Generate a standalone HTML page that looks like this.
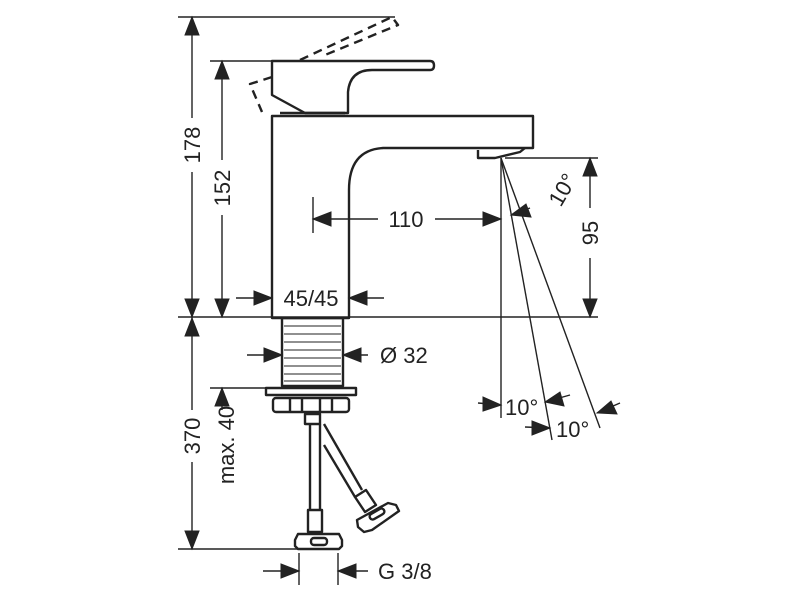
<!DOCTYPE html>
<html><head><meta charset="utf-8"><style>
html,body{margin:0;padding:0;background:#fff;width:800px;height:600px;overflow:hidden}
svg text{font-family:"Liberation Sans","DejaVu Sans",sans-serif;fill:#222}
</style></head><body>
<svg width="800" height="600" viewBox="0 0 800 600" xmlns="http://www.w3.org/2000/svg">
<g stroke="#222" fill="none" stroke-width="1.4">
<line x1="178" y1="17" x2="395" y2="17"/>
<line x1="210" y1="61" x2="272" y2="61"/>
<line x1="178" y1="317" x2="598" y2="317"/>
<line x1="505" y1="158" x2="598" y2="158"/>
<line x1="210" y1="388" x2="268" y2="388"/>
<line x1="178" y1="549" x2="300" y2="549"/>
<line x1="313" y1="197" x2="313" y2="233"/>
<line x1="501" y1="158" x2="501" y2="418"/>
<line x1="501" y1="158" x2="552" y2="440"/>
<line x1="501" y1="158" x2="600" y2="428"/>
<line x1="299" y1="553" x2="299" y2="585"/>
<line x1="338" y1="553" x2="338" y2="585"/>
<line x1="192" y1="17" x2="192" y2="118"/><line x1="192" y1="172" x2="192" y2="317"/>
<line x1="222" y1="61" x2="222" y2="160"/><line x1="222" y1="215" x2="222" y2="317"/>
<line x1="192" y1="317" x2="192" y2="410"/><line x1="192" y1="462" x2="192" y2="549"/>
<line x1="222" y1="388" x2="222" y2="410"/>
<line x1="590" y1="158" x2="590" y2="208"/><line x1="590" y1="258" x2="590" y2="317"/>
<line x1="313" y1="219" x2="378" y2="219"/><line x1="435" y1="219" x2="501" y2="219"/>
<line x1="530" y1="208" x2="511" y2="215"/>
<line x1="236" y1="298" x2="272" y2="298"/><line x1="384" y1="298" x2="349" y2="298"/>
<line x1="247" y1="355" x2="282" y2="355"/><line x1="368" y1="355" x2="343" y2="355"/>
<line x1="263" y1="571" x2="299" y2="571"/><line x1="368" y1="571" x2="338" y2="571"/>
<line x1="478" y1="403" x2="501" y2="405"/><line x1="570" y1="395" x2="545" y2="402"/>
<line x1="525" y1="427" x2="550" y2="428"/><line x1="620" y1="403" x2="597" y2="413"/>
</g>
<g fill="#222" stroke="#222" stroke-width="1" stroke-linejoin="miter">
<path d="M192,17 L185,35 L199,35Z"/><path d="M192,317 L185,299 L199,299Z"/>
<path d="M222,61 L215,79 L229,79Z"/><path d="M222,317 L215,299 L229,299Z"/>
<path d="M192,318 L185,336 L199,336Z"/><path d="M192,549 L185,531 L199,531Z"/>
<path d="M222,388 L215,406 L229,406Z"/>
<path d="M590,158 L583,176 L597,176Z"/><path d="M590,317 L583,299 L597,299Z"/>
<path d="M313,219 L331,212 L331,226Z"/><path d="M501,219 L483,212 L483,226Z"/>
<path d="M272,298 L254,291 L254,305Z"/><path d="M349,298 L367,291 L367,305Z"/>
<path d="M282,355 L264,348 L264,362Z"/><path d="M343,355 L361,348 L361,362Z"/>
<path d="M299,571 L281,564 L281,578Z"/><path d="M338,571 L356,564 L356,578Z"/>
<path d="M511,215 L526,204 L531,217Z"/>
<path d="M501,405 L483,397 L483,411Z"/>
<path d="M545,402 L560,392 L564,406Z"/>
<path d="M550,428 L532,421 L532,435Z"/>
<path d="M597,413 L611,401 L617,414Z"/>
</g>
<g stroke="#222" fill="none" stroke-width="2.4" stroke-linejoin="round">
<path d="M300,60 L392,17 L398,25 L325,55" stroke-dasharray="9,6"/>
<path d="M272,77 L250,84 L262,112" stroke-dasharray="9,6"/>
<path d="M272,61 L430,61 Q434,61 434,65.5 Q434,70 430,70 L372,70 Q350,70 348,92 L348,113 L305,113 L272,95 Z"/>
<line x1="280" y1="113" x2="345" y2="113"/>
<path d="M272,318 L272,116 L533,116 L533,148 L383,148 Q349,150 349,190 L349,318 Z"/>
<path d="M478,150 L478,158 L495,158 L520,152 L525,148"/>
<rect x="282" y="318" width="61" height="68"/>
</g>
<g stroke="#222" stroke-width="1">
<line x1="284" y1="326" x2="341" y2="326"/><line x1="284" y1="334" x2="341" y2="334"/>
<line x1="284" y1="342" x2="341" y2="342"/><line x1="284" y1="350" x2="341" y2="350"/>
<line x1="284" y1="358" x2="341" y2="358"/><line x1="284" y1="366" x2="341" y2="366"/>
<line x1="284" y1="374" x2="341" y2="374"/><line x1="284" y1="381" x2="341" y2="381"/>
</g>
<g stroke="#222" fill="none" stroke-width="2.4" stroke-linejoin="round">
<rect x="266" y="388" width="90" height="7" fill="#fff"/>
<rect x="273" y="398" width="76" height="14" rx="3"/>
<line x1="290" y1="399" x2="290" y2="411"/><line x1="302" y1="399" x2="302" y2="411"/>
<line x1="320" y1="399" x2="320" y2="411"/><line x1="332" y1="399" x2="332" y2="411"/>
<rect x="305" y="414" width="15" height="10"/>
<line x1="310" y1="424" x2="310" y2="510"/><line x1="320" y1="424" x2="320" y2="510"/>
<rect x="308" y="510" width="14" height="22"/>
<path d="M298,534 L339,534 L342,540 L342,546 L339,549 L298,549 L295,546 L295,540 Z"/>
<rect x="311" y="538" width="16" height="7" rx="3"/>
<line x1="324" y1="424" x2="362" y2="490"/><line x1="324" y1="445" x2="355" y2="497"/>
<path d="M355,497 L366,490 L376,505 L365,512 Z"/>
<path d="M357,520 L388,503 L396,505 L399,511 L372,530 L364,532 L358,527 Z"/>
<rect x="369" y="511" width="16" height="6" rx="3" transform="rotate(-30 377 514)"/>
</g>
<g font-size="22">
<text x="200" y="145" text-anchor="middle" transform="rotate(-90 200 145)">178</text>
<text x="230" y="188" text-anchor="middle" transform="rotate(-90 230 188)">152</text>
<text x="200" y="436" text-anchor="middle" transform="rotate(-90 200 436)">370</text>
<text x="234" y="445" text-anchor="middle" transform="rotate(-90 234 445)">max. 40</text>
<text x="598" y="233" text-anchor="middle" transform="rotate(-90 598 233)">95</text>
<text x="406" y="227" text-anchor="middle">110</text>
<text x="311" y="306" text-anchor="middle">45/45</text>
<text x="380" y="363">Ø 32</text>
<text x="378" y="579">G 3/8</text>
<text x="505" y="415">10°</text>
<text x="556" y="437">10°</text>
<text x="563" y="197" text-anchor="middle" transform="rotate(-60 563 190)">10°</text>
</g>
</svg>
</body></html>
